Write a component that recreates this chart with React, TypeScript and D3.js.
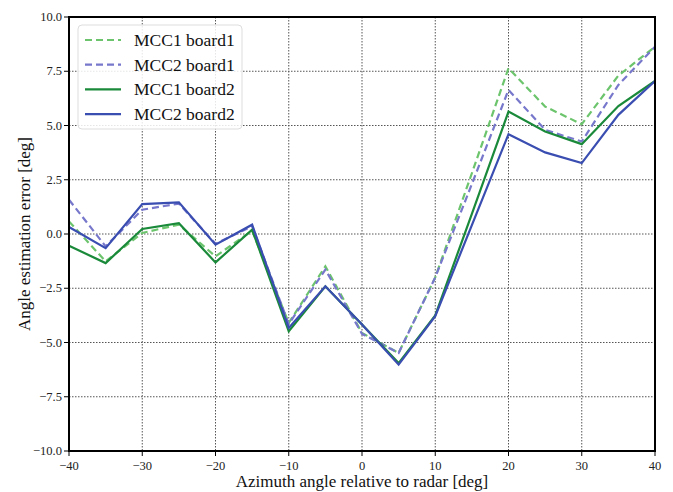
import React from "react";
import * as d3 from "d3";

const azimuth = [-40, -35, -30, -25, -20, -15, -10, -5, 0, 5, 10, 15, 20, 25, 30, 35, 40];
const mcc1Board1 = [0.58, -1.26, 0.05, 0.43, -1.03, 0.15, -4.1, -1.49, -4.56, -5.48, -2.0, 2.8, 7.64, 5.87, 5.06, 7.3, 8.63];
const mcc2Board1 = [1.58, -0.57, 1.12, 1.4, -0.45, 0.35, -4.15, -1.64, -4.6, -5.48, -2.0, 2.3, 6.64, 4.8, 4.26, 6.87, 8.63];
const mcc1Board2 = [-0.54, -1.34, 0.23, 0.5, -1.31, 0.2, -4.48, -2.41, -4.17, -5.95, -3.75, 0.93, 5.64, 4.72, 4.14, 5.9, 7.05];
const mcc2Board2 = [0.32, -0.65, 1.38, 1.46, -0.49, 0.43, -4.33, -2.41, -4.17, -6.02, -3.79, 0.41, 4.6, 3.76, 3.27, 5.49, 7.05];
const seriesNames = ["MCC1 board1", "MCC2 board1", "MCC1 board2", "MCC2 board2"];
const xTicks = [-40, -30, -20, -10, 0, 10, 20, 30, 40];
const yTicks = [-10, -7.5, -5, -2.5, 0, 2.5, 5, 7.5, 10];

const W = 673, H = 492;
const L = 69, R = 655, T = 17, B = 451;
const FONT = "'Liberation Serif', 'Times New Roman', serif";

const series = [
  { name: seriesNames[0], values: mcc1Board1, color: "#6cc46c", dash: "7,4" },
  { name: seriesNames[1], values: mcc2Board1, color: "#7777cc", dash: "7,4" },
  { name: seriesNames[2], values: mcc1Board2, color: "#1a8a3a", dash: "" },
  { name: seriesNames[3], values: mcc2Board2, color: "#3a4db0", dash: "" },
];

const fmtY = (v: number) => (v < 0 ? "\u2212" : "") + Math.abs(v).toFixed(1);
const fmtX = (v: number) => (v < 0 ? "\u2212" : "") + Math.abs(v).toString();

export default function App() {
  const x = d3.scaleLinear().domain([-40, 40]).range([L, R]);
  const y = d3.scaleLinear().domain([-10, 10]).range([B, T]);
  const line = d3
    .line<number>()
    .x((_, i) => x(azimuth[i]))
    .y((d) => y(d));

  return (
    <svg width={W} height={H} style={{ position: "absolute", left: 0, top: 0, background: "#fff" }} fontFamily={FONT}>
      <rect x={0} y={0} width={W} height={H} fill="#fff" />
      {/* grid */}
      {xTicks.map((t) => (
        <line key={"gx" + t} x1={x(t)} x2={x(t)} y1={T} y2={B} stroke="#555" strokeWidth={1} strokeDasharray="1.5,1.5" />
      ))}
      {yTicks.map((t) => (
        <line key={"gy" + t} x1={L} x2={R} y1={y(t)} y2={y(t)} stroke="#555" strokeWidth={1} strokeDasharray="1.5,1.5" />
      ))}
      {/* series */}
      {series.map((s) => (
        <path key={s.name} d={line(s.values) || ""} fill="none" stroke={s.color} strokeWidth={2.2} strokeDasharray={s.dash || undefined} strokeLinejoin="miter" />
      ))}
      {/* frame */}
      <rect x={L} y={T} width={R - L} height={B - T} fill="none" stroke="#000" strokeWidth={2} />
      {/* ticks */}
      {xTicks.map((t) => (
        <g key={"tx" + t}>
          <line x1={x(t)} x2={x(t)} y1={B} y2={B + 5} stroke="#000" strokeWidth={1} />
          <text x={x(t)} y={B + 19} fontSize={12.5} textAnchor="middle" fill="#222">{fmtX(t)}</text>
        </g>
      ))}
      {yTicks.map((t) => (
        <g key={"ty" + t}>
          <line x1={L - 5} x2={L} y1={y(t)} y2={y(t)} stroke="#000" strokeWidth={1} />
          <text x={L - 7} y={y(t) + 4} fontSize={12.5} textAnchor="end" fill="#222">{fmtY(t)}</text>
        </g>
      ))}
      {/* axis labels */}
      <text x={(L + R) / 2} y={487} fontSize={17} textAnchor="middle" fill="#111">Azimuth angle relative to radar [deg]</text>
      <text transform={`translate(30, ${(T + B) / 2}) rotate(-90)`} fontSize={17} textAnchor="middle" fill="#111">Angle estimation error [deg]</text>
      {/* legend */}
      <rect x={78} y={25} width={164} height={104} rx={4} fill="#fff" fillOpacity={0.85} stroke="#ddd" strokeWidth={1} />
      {series.map((s, i) => {
        const cy = 40 + i * 24.7;
        return (
          <g key={"lg" + s.name}>
            <line x1={85} x2={121} y1={cy} y2={cy} stroke={s.color} strokeWidth={2.2} strokeDasharray={s.dash || undefined} />
            <text x={134} y={cy + 6} fontSize={17.5} fill="#111">{s.name}</text>
          </g>
        );
      })}
    </svg>
  );
}
